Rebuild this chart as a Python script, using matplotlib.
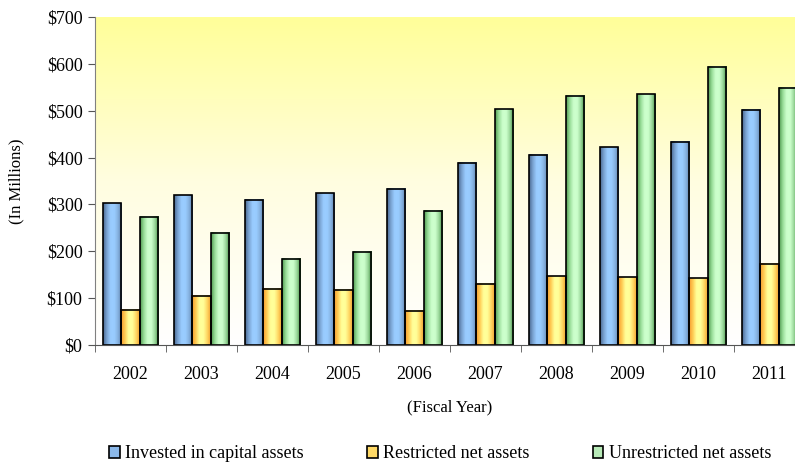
import numpy as np
import matplotlib
matplotlib.use("Agg")
import matplotlib.pyplot as plt
from matplotlib.colors import LinearSegmentedColormap
from matplotlib.patches import Patch

years = ['2002', '2003', '2004', '2005', '2006', '2007', '2008', '2009', '2010', '2011']
invested = [302, 320, 310, 324, 333, 389, 406, 422, 434, 502]
restricted = [75, 105, 120, 118, 73, 131, 147, 145, 142, 173]
unrestricted = [274, 240, 184, 199, 286, 503, 532, 535, 594, 549]
series_names = ['Invested in capital assets', 'Restricted net assets', 'Unrestricted net assets']

plt.rcParams['font.family'] = ['Liberation Serif', 'DejaVu Serif']

# horizontal shading for each bar series (left edge -> right edge)
shades = [
    ['#4a6890', '#7aa3d2', '#99ccff', '#99ccff', '#86b2e0', '#5b7ca8'],
    ['#f59a2e', '#ffcc55', '#ffff99', '#ffff99', '#ffd966', '#f0a030'],
    ['#4f9a4f', '#99dd99', '#ccffcc', '#ccffcc', '#99d699', '#3f8a3f'],
]
legend_colors = ['#8cb9ea', '#ffd966', '#b8eab8']

fig = plt.figure(figsize=(7.95, 4.62), dpi=100)
ax = fig.add_axes([95 / 795, 117 / 462, 710 / 795, 328 / 462])

# yellow-to-white background
bg = LinearSegmentedColormap.from_list('bg', ['#ffffff', '#fffde0', '#ffff99'])
ax.imshow(np.linspace(0, 1, 256).reshape(-1, 1), extent=(0, 1, 0, 1), origin='lower',
          transform=ax.transAxes, aspect='auto', cmap=bg, zorder=0)

x = np.arange(len(years))
width = 0.26
grad = np.linspace(0, 1, 64).reshape(1, -1)
for i, vals in enumerate([invested, restricted, unrestricted]):
    bars = ax.bar(x + (i - 1) * width, vals, width, facecolor='none',
                  edgecolor='black', linewidth=1.2, zorder=3)
    cmap = LinearSegmentedColormap.from_list('s%d' % i, shades[i])
    for r in bars:
        x0, y0 = r.get_xy()
        ax.imshow(grad, extent=(x0, x0 + r.get_width(), y0, y0 + r.get_height()),
                  aspect='auto', cmap=cmap, zorder=2)

ax.set_xlim(-0.5, len(years) - 0.5)
ax.set_ylim(0, 700)
ax.set_yticks(range(0, 701, 100))
ax.set_yticklabels(['$%d' % v for v in range(0, 701, 100)], fontsize=13)
ax.set_xticks(x)
ax.set_xticklabels(years, fontsize=13)
ax.set_xticks(np.arange(-0.5, len(years)), minor=True)
ax.tick_params(axis='x', which='major', length=0, pad=15)
ax.tick_params(axis='x', which='minor', length=5, color='#555555', direction='out')
ax.tick_params(axis='y', length=5, color='#555555', direction='out', pad=4)

for s in ['top', 'right']:
    ax.spines[s].set_visible(False)
ax.spines['left'].set_color('#808080')
ax.spines['bottom'].set_color('#555555')
ax.spines['left'].set_zorder(4)
ax.spines['bottom'].set_zorder(4)

ax.set_ylabel('(In Millions)', fontsize=12, labelpad=16)
ax.set_xlabel('(Fiscal Year)', fontsize=12, labelpad=12)

handles = [Patch(facecolor=c, edgecolor='black', linewidth=1.2) for c in legend_colors]
fig.legend(handles, series_names, loc='center', bbox_to_anchor=(440 / 795, 1 - 454 / 462),
           ncol=3, frameon=False, fontsize=13, handlelength=0.6, handleheight=0.6,
           handletextpad=0.3, columnspacing=3.5)

fig.savefig('out.png', dpi=100)
